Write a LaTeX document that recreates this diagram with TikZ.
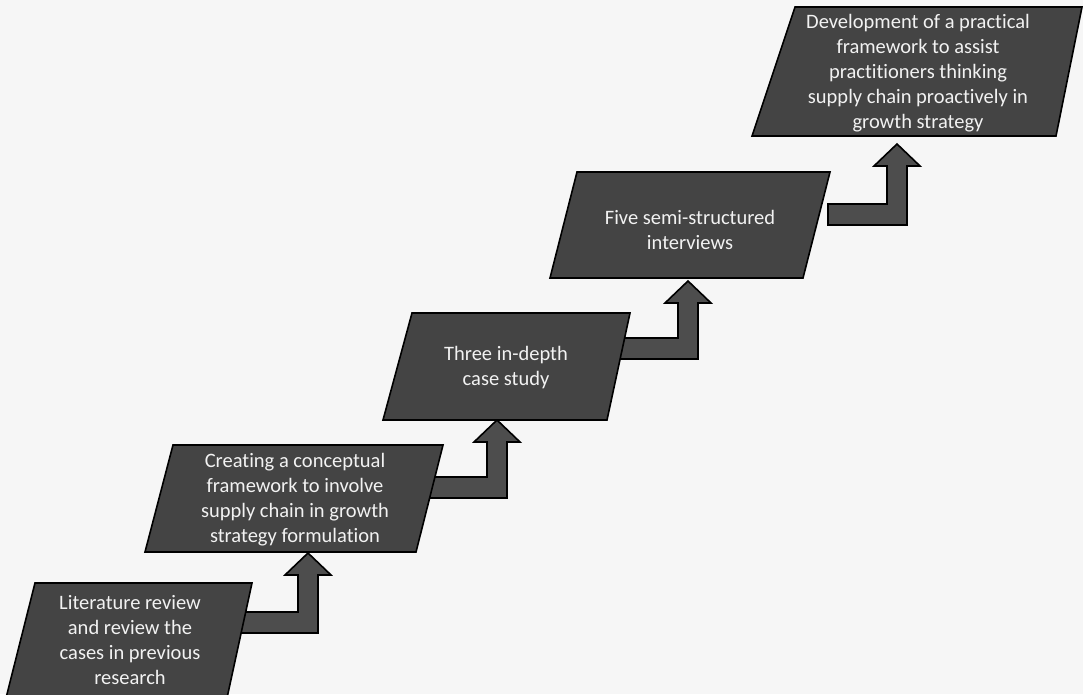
\documentclass[tikz,border=0pt]{standalone}
\usepackage{fontspec}
\setmainfont{Carlito}[Ligatures=NoCommon]
\definecolor{paper}{HTML}{F6F6F6}
\definecolor{boxfill}{HTML}{444444}
\definecolor{arrowfill}{HTML}{4D4D4D}
\definecolor{boxtext}{HTML}{F2F2F2}
\tikzset{
  stagebox/.style={fill=boxfill, draw=black, line width=1.6pt, line join=miter},
  stagetext/.style={text=boxtext, align=center, inner sep=0pt,
    font=\fontsize{20.5}{25}\selectfont},
  arrowbody/.style={fill=arrowfill, draw=black, line width=1.6pt, line join=miter}
}
% bent-up block arrow: #1 tail x, #2 bar bottom y, #3 shaft right x, #4 tip y
\newcommand{\bentup}[4]{%
  \path[arrowbody] (#1,#2) -- (#3,#2) -- (#3,{#4+22}) -- ({#3+13},{#4+22})
    -- ({#3-10},#4) -- ({#3-33},{#4+22}) -- ({#3-20},{#4+22})
    -- ({#3-20},{#2-21}) -- (#1,{#2-21}) -- cycle;}
\begin{document}
\begin{tikzpicture}[x=1pt,y=-1pt]
  \useasboundingbox[fill=paper] (0,0) rectangle (1083,694);

  % connectors between the stages
  \bentup{235}{633}{318}{553}
  \bentup{430}{498}{507}{420}
  \bentup{615}{359}{698}{281}
  \bentup{828}{225}{907}{144}

  % stage outlines
  \path[stagebox] (35,583) -- (252,583) -- (227,698) -- (6,698) -- cycle;
  \path[stagebox] (173,445) -- (443,445) -- (416,552) -- (145,552) -- cycle;
  \path[stagebox] (412,313) -- (630,313) -- (607,420) -- (383,420) -- cycle;
  \path[stagebox] (577,172) -- (830,172) -- (803,278) -- (550,278) -- cycle;
  \path[stagebox] (795,7) -- (1082,7) -- (1056,136) -- (752,136) -- cycle;

  % stage labels
  \node[stagetext] (lit) at (130,640)
    {Literature review\\and review the\\cases in previous\\research};
  \node[stagetext] (concept) at (295,500)
    {Creating a conceptual\\framework to involve\\supply chain in growth\\strategy formulation};
  \node[stagetext] (cases) at (506,368) {Three in-depth\\case study};
  \node[stagetext] (interviews) at (690,230) {Five semi-structured\\interviews};
  \node[stagetext] (framework) at (918,73)
    {Development of a practical\\framework to assist\\practitioners thinking\\supply chain proactively in\\growth strategy};
\end{tikzpicture}
\end{document}
